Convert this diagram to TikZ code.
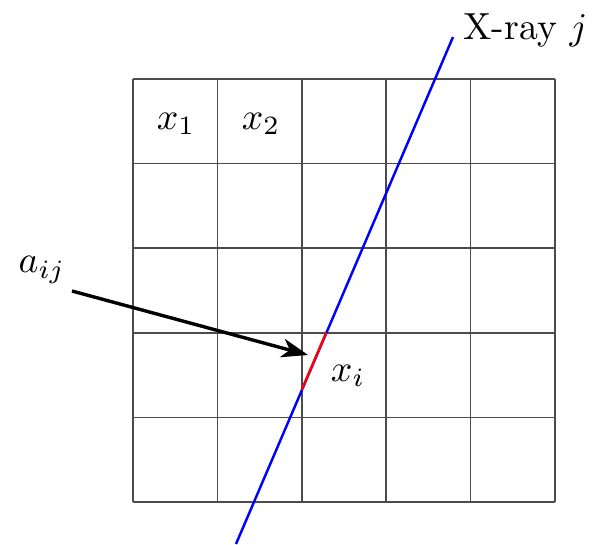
\documentclass[tikz,border=0pt]{standalone}
\usetikzlibrary{arrows.meta}
\begin{document}
\begin{tikzpicture}[x=0.265pt,y=-0.265pt,
  gridline/.style={draw=black!70,line width=0.4pt},
  ray/.style={blue,line width=0.65pt},
  seg/.style={red,line width=0.65pt},
  pointer/.style={line width=0.9pt,-{Stealth[length=7pt,width=5pt,inset=2pt]}},
  lbl/.style={inner sep=1pt}]
\useasboundingbox (0,0) rectangle (604,544);
% grid
\foreach \i in {0,...,5}{
  \draw[gridline] ({133+\i*84.4},79) -- ({133+\i*84.4},502);
  \draw[gridline] (133,{79+\i*84.6}) -- (555,{79+\i*84.6});
}
% ray
\coordinate (rtop) at (453,37);
\coordinate (rbot) at (236,544);
\coordinate (sA) at (326.3,332.6);
\coordinate (sB) at (301.7,389.9);
\draw[ray] (rbot) -- (rtop);
\draw[seg] (sB) -- (sA);
% labels
\node[lbl] (x1) at (176,124) {$x_1$};
\node[lbl] (x2) at (261,124) {$x_2$};
\node[lbl] (xi) at (348,376) {$x_i$};
\node[lbl,anchor=west] (xray) at (459,30) {X-ray $j$};
\node[lbl] (aij) at (42,270) {$a_{ij}$};
% arrow
\coordinate (astart) at (72,291);
\coordinate (aend) at (308,355);
\draw[pointer] (astart) -- (aend);
\end{tikzpicture}
\end{document}
